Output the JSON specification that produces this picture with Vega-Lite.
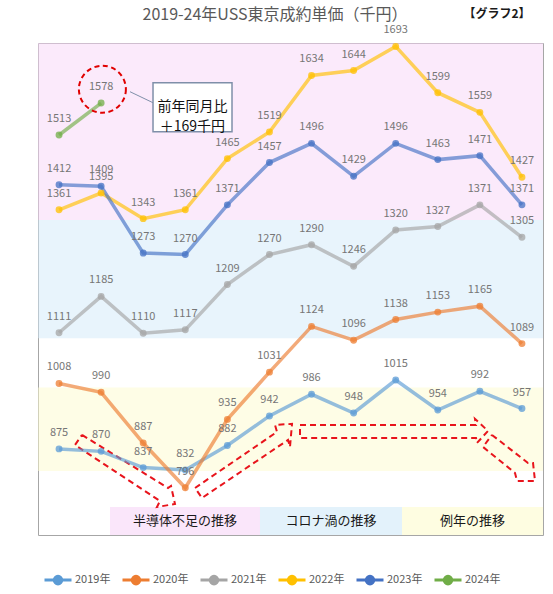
{
  "$schema": "https://vega.github.io/schema/vega-lite/v6.json",
  "width": 505,
  "height": 492,
  "autosize": {"type": "none"},
  "padding": {"left": 38, "top": 43, "right": 10, "bottom": 59},
  "background": "white",
  "config": {
    "font": "Noto Sans CJK JP",
    "view": {"stroke": "#a6a6a6", "strokeWidth": 1}
  },
  "datasets": {
    "series": [
      {"year": "2019年", "m": 1, "v": 875}, {"year": "2019年", "m": 2, "v": 870}, {"year": "2019年", "m": 3, "v": 837},
      {"year": "2019年", "m": 4, "v": 832}, {"year": "2019年", "m": 5, "v": 882}, {"year": "2019年", "m": 6, "v": 942},
      {"year": "2019年", "m": 7, "v": 986}, {"year": "2019年", "m": 8, "v": 948}, {"year": "2019年", "m": 9, "v": 1015},
      {"year": "2019年", "m": 10, "v": 954}, {"year": "2019年", "m": 11, "v": 992}, {"year": "2019年", "m": 12, "v": 957},
      {"year": "2020年", "m": 1, "v": 1008}, {"year": "2020年", "m": 2, "v": 990}, {"year": "2020年", "m": 3, "v": 887},
      {"year": "2020年", "m": 4, "v": 796}, {"year": "2020年", "m": 5, "v": 935}, {"year": "2020年", "m": 6, "v": 1031},
      {"year": "2020年", "m": 7, "v": 1124}, {"year": "2020年", "m": 8, "v": 1096}, {"year": "2020年", "m": 9, "v": 1138},
      {"year": "2020年", "m": 10, "v": 1153}, {"year": "2020年", "m": 11, "v": 1165}, {"year": "2020年", "m": 12, "v": 1089},
      {"year": "2021年", "m": 1, "v": 1111}, {"year": "2021年", "m": 2, "v": 1185}, {"year": "2021年", "m": 3, "v": 1110},
      {"year": "2021年", "m": 4, "v": 1117}, {"year": "2021年", "m": 5, "v": 1209}, {"year": "2021年", "m": 6, "v": 1270},
      {"year": "2021年", "m": 7, "v": 1290}, {"year": "2021年", "m": 8, "v": 1246}, {"year": "2021年", "m": 9, "v": 1320},
      {"year": "2021年", "m": 10, "v": 1327}, {"year": "2021年", "m": 11, "v": 1371}, {"year": "2021年", "m": 12, "v": 1305},
      {"year": "2022年", "m": 1, "v": 1361}, {"year": "2022年", "m": 2, "v": 1395}, {"year": "2022年", "m": 3, "v": 1343},
      {"year": "2022年", "m": 4, "v": 1361}, {"year": "2022年", "m": 5, "v": 1465}, {"year": "2022年", "m": 6, "v": 1519},
      {"year": "2022年", "m": 7, "v": 1634}, {"year": "2022年", "m": 8, "v": 1644}, {"year": "2022年", "m": 9, "v": 1693},
      {"year": "2022年", "m": 10, "v": 1599}, {"year": "2022年", "m": 11, "v": 1559}, {"year": "2022年", "m": 12, "v": 1427},
      {"year": "2023年", "m": 1, "v": 1412}, {"year": "2023年", "m": 2, "v": 1409}, {"year": "2023年", "m": 3, "v": 1273},
      {"year": "2023年", "m": 4, "v": 1270}, {"year": "2023年", "m": 5, "v": 1371}, {"year": "2023年", "m": 6, "v": 1457},
      {"year": "2023年", "m": 7, "v": 1496}, {"year": "2023年", "m": 8, "v": 1429}, {"year": "2023年", "m": 9, "v": 1496},
      {"year": "2023年", "m": 10, "v": 1463}, {"year": "2023年", "m": 11, "v": 1471}, {"year": "2023年", "m": 12, "v": 1371},
      {"year": "2024年", "m": 1, "v": 1513}, {"year": "2024年", "m": 2, "v": 1578}
    ],
    "zones": [
      {"zone": "半導体不足の推移", "lo": 1340, "hi": 1700, "m1": 2.211, "m2": 5.775},
      {"zone": "コロナ渦の推移", "lo": 1100, "hi": 1340, "m1": 5.775, "m2": 9.15},
      {"zone": "例年の推移", "lo": 830, "hi": 1000, "m1": 9.15, "m2": 12.5}
    ],
    "arrows": [
      {"a": 1, "i": 0, "m": 1.546, "v": 903.4}, {"a": 1, "i": 1, "m": 3.589, "v": 795.6}, {"a": 1, "i": 2, "m": 3.66, "v": 799.7},
      {"a": 1, "i": 3, "m": 3.755, "v": 763.1}, {"a": 1, "i": 4, "m": 3.328, "v": 756.9}, {"a": 1, "i": 5, "m": 3.399, "v": 769.2},
      {"a": 1, "i": 6, "m": 1.379, "v": 883.0}, {"a": 1, "i": 7, "m": 1.546, "v": 903.4},
      {"a": 2, "i": 0, "m": 4.231, "v": 795.6}, {"a": 2, "i": 1, "m": 6.179, "v": 909.5}, {"a": 2, "i": 2, "m": 6.132, "v": 923.7},
      {"a": 2, "i": 3, "m": 6.536, "v": 925.8}, {"a": 2, "i": 4, "m": 6.488, "v": 879.0}, {"a": 2, "i": 5, "m": 6.441, "v": 893.2},
      {"a": 2, "i": 6, "m": 4.397, "v": 775.3}, {"a": 2, "i": 7, "m": 4.231, "v": 795.6},
      {"a": 3, "i": 0, "m": 6.726, "v": 923.7}, {"a": 3, "i": 1, "m": 10.908, "v": 923.7}, {"a": 3, "i": 2, "m": 10.884, "v": 935.9},
      {"a": 3, "i": 3, "m": 11.193, "v": 911.5}, {"a": 3, "i": 4, "m": 10.932, "v": 887.1}, {"a": 3, "i": 5, "m": 10.908, "v": 897.3},
      {"a": 3, "i": 6, "m": 6.726, "v": 897.3}, {"a": 3, "i": 7, "m": 6.726, "v": 923.7},
      {"a": 4, "i": 0, "m": 11.288, "v": 903.4}, {"a": 4, "i": 1, "m": 12.144, "v": 846.4}, {"a": 4, "i": 2, "m": 12.263, "v": 846.4},
      {"a": 4, "i": 3, "m": 12.31, "v": 809.8}, {"a": 4, "i": 4, "m": 11.882, "v": 809.8}, {"a": 4, "i": 5, "m": 11.835, "v": 826.1},
      {"a": 4, "i": 6, "m": 11.074, "v": 879.0}, {"a": 4, "i": 7, "m": 11.288, "v": 903.4}
    ]
  },
  "layer": [
    {
      "data": {"name": "zones"},
      "mark": {"type": "rect", "fillOpacity": 0.5},
      "encoding": {
        "x": {"datum": 0.5, "type": "quantitative", "scale": {"domain": [0.5, 12.5], "nice": false, "zero": false}, "axis": null},
        "x2": {"datum": 12.5},
        "y": {"field": "lo", "type": "quantitative", "scale": {"domain": [700, 1700], "nice": false, "zero": false}, "axis": null},
        "y2": {"field": "hi"},
        "fill": {"field": "zone", "type": "nominal", "scale": {"domain": ["半導体不足の推移", "コロナ渦の推移", "例年の推移"], "range": ["#f7d5f7", "#d1e9f9", "#fdfbcd"]}, "legend": null}
      }
    },
    {
      "data": {"name": "zones"},
      "mark": {"type": "rect", "fillOpacity": 0.6},
      "encoding": {
        "x": {"field": "m1", "type": "quantitative", "axis": null},
        "x2": {"field": "m2"},
        "y": {"datum": 700, "type": "quantitative", "axis": null},
        "y2": {"datum": 757},
        "fill": {"field": "zone", "type": "nominal", "legend": null}
      }
    },
    {
      "data": {"name": "zones"},
      "transform": [{"calculate": "(datum.m1 + datum.m2) / 2", "as": "mid"}],
      "mark": {"type": "text", "fontSize": 13, "color": "#1a1a1a", "baseline": "middle", "align": "center"},
      "encoding": {
        "x": {"field": "mid", "type": "quantitative", "axis": null},
        "y": {"datum": 728.5, "type": "quantitative", "axis": null},
        "text": {"field": "zone"}
      }
    },
    {
      "data": {"name": "arrows"},
      "mark": {"type": "line", "stroke": "#e8141c", "strokeWidth": 2, "strokeDash": [6, 4]},
      "encoding": {
        "x": {"field": "m", "type": "quantitative", "axis": null},
        "y": {"field": "v", "type": "quantitative", "axis": null},
        "detail": {"field": "a", "type": "nominal"},
        "order": {"field": "i", "type": "quantitative"}
      }
    },
    {
      "data": {"name": "series"},
      "mark": {"type": "line", "strokeWidth": 3.5, "opacity": 0.65},
      "encoding": {
        "x": {
          "field": "m", "type": "quantitative",
          "axis": {"title": null, "values": [1, 2, 3, 4, 5, 6, 7, 8, 9, 10, 11, 12], "labelExpr": "datum.value + '月'", "grid": false, "ticks": false, "domain": false, "labelFontSize": 11, "labelColor": "#595959", "labelPadding": 9}
        },
        "y": {
          "field": "v", "type": "quantitative",
          "axis": {"title": null, "values": [700, 800, 900, 1000, 1100, 1200, 1300, 1400, 1500, 1600, 1700], "grid": true, "gridColor": "#d9d9d9", "ticks": false, "domain": false, "labelFontSize": 11, "labelColor": "#595959", "labelPadding": 10}
        },
        "color": {
          "field": "year", "type": "nominal",
          "scale": {"domain": ["2019年", "2020年", "2021年", "2022年", "2023年", "2024年"], "range": ["#5b9bd5", "#ed7d31", "#a5a5a5", "#ffc000", "#4472c4", "#70ad47"]},
          "legend": {
            "title": null, "orient": "none", "legendX": 5, "legendY": 522, "direction": "horizontal",
            "symbolType": "M-1,0L1,0M-0.28,0A0.28,0.28,0,1,1,0.28,0A0.28,0.28,0,1,1,-0.28,0Z",
            "symbolSize": 729, "symbolStrokeWidth": 3, "symbolOpacity": 1,
            "labelFontSize": 11, "labelColor": "#595959", "labelOffset": 2, "columnPadding": 5, "padding": 0,
            "encode": {"symbols": {"update": {"fill": {"scale": "color", "field": "value"}, "stroke": {"scale": "color", "field": "value"}, "opacity": {"value": 1}}}}
          }
        }
      }
    },
    {
      "data": {"name": "series"},
      "mark": {"type": "circle", "size": 48, "opacity": 0.75},
      "encoding": {
        "x": {"field": "m", "type": "quantitative", "axis": null},
        "y": {"field": "v", "type": "quantitative", "axis": null},
        "color": {"field": "year", "type": "nominal", "legend": null}
      }
    },
    {
      "data": {"name": "series"},
      "mark": {"type": "text", "dy": -16, "fontSize": 11, "color": "#767676", "baseline": "middle", "align": "center"},
      "encoding": {
        "x": {"field": "m", "type": "quantitative", "axis": null},
        "y": {"field": "v", "type": "quantitative", "axis": null},
        "text": {"field": "v", "type": "quantitative"}
      }
    },
    {
      "data": {"values": [{"m1": 2.686, "v1": 1601, "m2": 3.233, "v2": 1578.6}]},
      "mark": {"type": "rule", "stroke": "#7f8fa9", "strokeWidth": 1},
      "encoding": {
        "x": {"field": "m1", "type": "quantitative", "axis": null},
        "y": {"field": "v1", "type": "quantitative", "axis": null},
        "x2": {"field": "m2"},
        "y2": {"field": "v2"}
      }
    },
    {
      "data": {"values": [{"m": 2.03, "v": 1606}]},
      "mark": {"type": "point", "shape": "circle", "size": 2209, "filled": false, "stroke": "#e00000", "strokeWidth": 2, "strokeDash": [5, 3.5], "opacity": 1},
      "encoding": {
        "x": {"field": "m", "type": "quantitative", "axis": null},
        "y": {"field": "v", "type": "quantitative", "axis": null}
      }
    },
    {
      "data": {"values": [{"m1": 3.233, "m2": 5.11, "lo": 1519.6, "hi": 1619, "mid": 4.17, "vm": 1570, "t": "前年同月比\n＋169千円"}]},
      "layer": [
        {
          "mark": {"type": "rect", "fill": "white", "stroke": "#7f8fa9", "strokeWidth": 1.5},
          "encoding": {
            "x": {"field": "m1", "type": "quantitative", "axis": null},
            "x2": {"field": "m2"},
            "y": {"field": "lo", "type": "quantitative", "axis": null},
            "y2": {"field": "hi"}
          }
        },
        {
          "mark": {"type": "text", "fontSize": 14, "lineHeight": 20, "lineBreak": "\n", "color": "#111111", "align": "center", "baseline": "middle"},
          "encoding": {
            "x": {"field": "mid", "type": "quantitative", "axis": null},
            "y": {"field": "vm", "type": "quantitative", "axis": null},
            "text": {"field": "t"}
          }
        }
      ]
    },
    {
      "data": {"values": [
        {"m": 6.132, "v": 1757.6, "t": "2019-24年USS東京成約単価（千円）", "kind": "title"},
        {"m": 11.407, "v": 1759.7, "t": "【グラフ2】", "kind": "tag"}
      ]},
      "layer": [
        {
          "transform": [{"filter": "datum.kind == 'title'"}],
          "mark": {"type": "text", "fontSize": 16, "color": "#595959", "align": "center", "baseline": "middle"},
          "encoding": {
            "x": {"field": "m", "type": "quantitative", "axis": null},
            "y": {"field": "v", "type": "quantitative", "axis": null},
            "text": {"field": "t"}
          }
        },
        {
          "transform": [{"filter": "datum.kind == 'tag'"}],
          "mark": {"type": "text", "fontSize": 12, "fontWeight": "bold", "color": "#1a1a1a", "align": "center", "baseline": "middle"},
          "encoding": {
            "x": {"field": "m", "type": "quantitative", "axis": null},
            "y": {"field": "v", "type": "quantitative", "axis": null},
            "text": {"field": "t"}
          }
        }
      ]
    }
  ]
}
